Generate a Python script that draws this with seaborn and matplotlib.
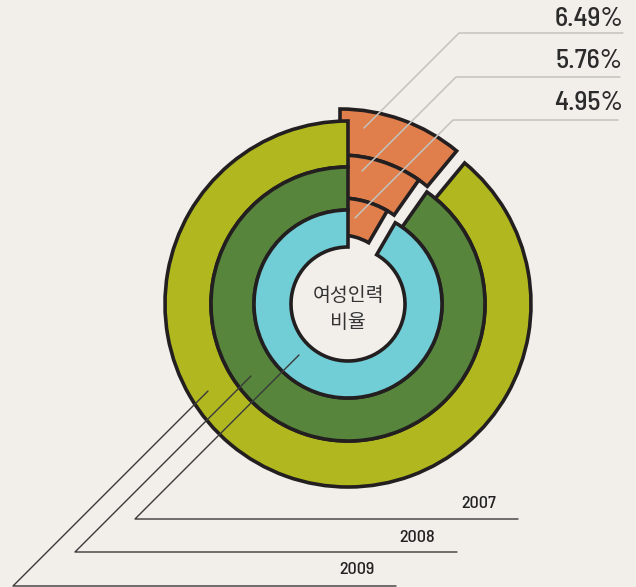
import matplotlib
matplotlib.use("Agg")
import matplotlib.pyplot as plt
import seaborn as sns

# --- Data ---
years = ["2009", "2008", "2007"]            # outer -> inner ring
female_share = [6.49, 5.76, 4.95]           # % women in workforce
share_labels = ["6.49%", "5.76%", "4.95%"]
center_label = "여성인력\n비율"

# --- Style ---
sns.set_theme(style="white")
plt.rcParams["font.family"] = ["Noto Sans CJK KR", "DejaVu Sans"]
NUM_FONT = ["Barlow Semi Condensed", "DejaVu Sans"]

BG = "#f2efeb"
EDGE = "#231f20"
ring_colors = ["#b1b81f", "#56853b", "#72ced6"]
ORANGE = "#e07f4b"
DEG_PER_PCT = 6.1          # slices are drawn exaggerated in the original

W, H = 636, 587
cx, cy = 348, H - 304      # ring centre (pixel space, y up)
ox, oy = cx - 8, cy + 12   # pulled-out orange slices
radii = [183, 137, 94]
inner_r = 57

fig = plt.figure(figsize=(W / 100, H / 100), dpi=100, facecolor=BG)
ax = fig.add_axes([0, 0, 1, 1])
ax.set_facecolor(BG)

# --- Orange slices first (green rings sit on top of them) ---
for i, val in enumerate(female_share):
    frac = val * DEG_PER_PCT / 360
    r_in = radii[i + 1] if i + 1 < len(radii) else inner_r
    wedges, _ = ax.pie([frac, 1 - frac], center=(ox, oy), radius=radii[i],
                       startangle=90, counterclock=False,
                       colors=[ORANGE, "none"],
                       wedgeprops=dict(width=radii[i] - r_in, edgecolor=EDGE, linewidth=2.6))
    wedges[1].set_visible(False)

# --- Year rings ---
for i, val in enumerate(female_share):
    frac = val * DEG_PER_PCT / 360
    r_in = radii[i + 1] if i + 1 < len(radii) else inner_r
    wedges, _ = ax.pie([frac, 1 - frac], center=(cx, cy), radius=radii[i],
                       startangle=90, counterclock=False,
                       colors=["none", ring_colors[i]],
                       wedgeprops=dict(width=radii[i] - r_in, edgecolor=EDGE, linewidth=2.6))
    wedges[0].set_visible(False)

ax.text(cx, H - 309, center_label, ha="center", va="center", fontsize=14,
        color="#333333", linespacing=1.35, fontweight="light")

# --- Leader lines: percentages (top right) ---
top_starts = [(364, 128), (362, 171), (355, 218)]
top_rows = [33, 77, 120]
top_ends = [623, 620, 618]
label_y = [19, 61, 103]
for (sx, sy), ry, ex, ly, lab in zip(top_starts, top_rows, top_ends, label_y, share_labels):
    kx = sx + (sy - ry)
    ax.plot([sx, kx, ex], [H - sy, H - ry, H - ry], color="#c4c2bf", lw=1.1, zorder=5)
    ax.text(623, H - ly, lab, ha="right", va="center", fontsize=20,
            family=NUM_FONT, fontweight="medium", color="#2b2b2b")

# --- Leader lines: years (bottom left) ---
bot_starts = [(299, 355), (251, 376), (208, 391)]
bot_rows = [519, 552, 586]
bot_ends = [518, 457, 396]
year_y = [504, 537, 570]
for (sx, sy), ry, ex, yy, yr in zip(bot_starts, bot_rows, bot_ends, year_y, years[::-1]):
    kx = sx - (ry - sy)
    ax.plot([sx, kx, ex], [H - sy, H - ry, H - ry], color="#3a3a3a", lw=1.0, zorder=5)
    ax.text(ex - 22, H - yy, yr, ha="right", va="center", fontsize=13,
            family=NUM_FONT, fontweight="medium", color="#222222")

ax.set_xlim(0, W)
ax.set_ylim(0, H)
ax.set_aspect("auto")
ax.axis("off")

plt.savefig("out.png", dpi=100, facecolor=BG)
plt.close()
